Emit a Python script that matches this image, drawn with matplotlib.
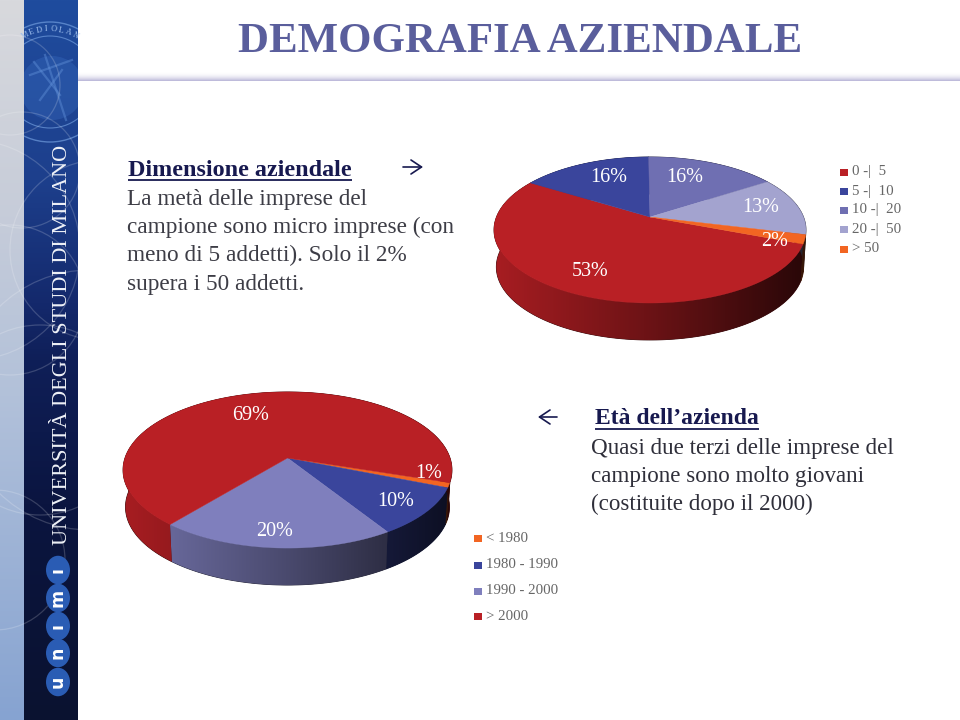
"""Slide DEMOGRAFIA AZIENDALE: due torte 3D con testo a lato."""

import matplotlib
matplotlib.use("Agg")
import matplotlib.pyplot as plt
import numpy as np
from matplotlib.colors import LinearSegmentedColormap, to_rgb
from matplotlib.patches import Circle, Ellipse, Polygon, Rectangle

SERIF = "Liberation Serif"

TITLE = "DEMOGRAFIA AZIENDALE"
SIDE_TEXT = "UNIVERSITÀ DEGLI STUDI DI MILANO"

SIZE_LABELS = ["0 -|  5", "5 -|  10", "10 -|  20", "20 -|  50", "> 50"]
SIZE_VALUES = [53, 16, 16, 13, 2]
SIZE_COLORS = ["#b92025", "#3a459c", "#6f6fb2", "#a3a3cf", "#f26522"]

AGE_LABELS = ["< 1980", "1980 - 1990", "1990 - 2000", "> 2000"]
AGE_VALUES = [1, 10, 20, 69]
AGE_COLORS = ["#f26522", "#3a459c", "#7f7fbd", "#b92025"]

SIZE_TEXT = ["La metà delle imprese del", "campione sono micro imprese (con",
             "meno di 5 addetti). Solo il 2%", "supera i 50 addetti."]
AGE_TEXT = ["Quasi due terzi delle imprese del", "campione sono molto giovani",
            "(costituite dopo il 2000)"]


def project(deg, cx, cy, sx, sy, k):
    # cerchio visto in prospettiva: il retro si accorcia
    a = np.radians(deg)
    x, y = np.sin(a), np.cos(a)
    d = 1 + k * y
    return cx + sx * x / d, cy - sy * y / d


def pie3d(ax, values, colors, start, cx, cy, sx, sy, k, depth):
    edges = start + np.concatenate([[0], np.cumsum(values)]) / sum(values) * 360
    grad = np.linspace(0, 1, 256).reshape(1, -1)
    # fianco: sfumatura orizzontale ritagliata sul bordo di ogni fetta
    for a0, a1, col in zip(edges[:-1], edges[1:], colors):
        base = np.array(to_rgb(col))
        angs = np.linspace(a0, a1, 200)
        xt, yt = project(angs, cx, cy, sx, sy, k)
        xb, yb = project(angs[::-1], cx, cy + depth, sx * 0.985, sy, k)
        pts = np.column_stack([np.r_[xt, xb], np.r_[yt, yb]])
        # sotto l'immagine, per non lasciare fessure chiare tra le fette
        ax.add_patch(Polygon(pts, closed=True, fc=base * 0.3, ec=base * 0.3, lw=0.6, zorder=2.9))
        side = Polygon(pts, closed=True, fc="none", ec="none", transform=ax.transData)
        cmap = LinearSegmentedColormap.from_list("s", [base * 0.92, base * 0.58, base * 0.2])
        im = ax.imshow(grad, cmap=cmap, extent=(cx - sx - 10, cx + sx + 10, cy + 150, cy - 150),
                       aspect="auto", zorder=3)
        im.set_clip_path(side)
    # faccia superiore
    for a0, a1, col in zip(edges[:-1], edges[1:], colors):
        angs = np.linspace(a0, a1, 200)
        xs, ys = project(angs, cx, cy, sx, sy, k)
        pts = np.column_stack([np.r_[cx, xs], np.r_[cy, ys]])
        ax.add_patch(Polygon(pts, closed=True, fc=col, ec=col, lw=0.3, zorder=4))


def legend(ax, labels, colors, x, ys):
    for lab, col, y in zip(labels, colors, ys):
        ax.add_patch(Rectangle((x, y - 3.5), 7.5, 7.5, fc=col, ec="none", zorder=5))
        ax.text(x + 11.5, y, lab, family=SERIF, fontsize=10.7, color="#666666",
                va="center", ha="left", zorder=5)


def banner(ax):
    light = LinearSegmentedColormap.from_list(
        "l", [(0, "#d8d9dd"), (0.3, "#c6ccd9"), (0.55, "#b2c1da"), (1, "#86a3d1")])
    dark = LinearSegmentedColormap.from_list(
        "d", [(0, "#1f4c9e"), (0.25, "#1d3f8c"), (0.42, "#14296c"), (0.5, "#0f1f58"),
              (0.7, "#0b1540"), (1, "#0a1230")])
    grad = np.linspace(0, 1, 256).reshape(-1, 1)
    ax.imshow(grad, cmap=light, extent=(0, 24, 720, 0), aspect="auto", zorder=1)
    ax.imshow(grad, cmap=dark, extent=(24, 78, 720, 0), aspect="auto", zorder=1)
    clip_all = Rectangle((0, 0), 78, 720, transform=ax.transData)
    clip_dark = Rectangle((24, 0), 54, 720, transform=ax.transData)
    # sigillo in alto, solo sulla fascia scura
    for r, lw in [(60, 1.0), (46, 0.8)]:
        c = Circle((50, 82), r, fc="none", ec="#6f9bdc", lw=lw, alpha=0.7, zorder=2)
        ax.add_patch(c)
        c.set_clip_path(clip_dark)
    c = Circle((52, 88), 32, fc="#3f74c8", ec="none", alpha=0.3, zorder=2)
    ax.add_patch(c)
    c.set_clip_path(clip_dark)
    for (x0, y0, x1, y1) in [(30, 75, 72, 60), (34, 62, 60, 95), (45, 55, 66, 120), (62, 70, 40, 100)]:
        ln, = ax.plot([x0, x1], [y0, y1], color="#5f8fd8", lw=1.6, alpha=0.45, zorder=2)
        ln.set_clip_path(clip_dark)
    # archi chiari sulla fascia
    arcs = [(58, 22, 170), (75, 10, 300), (95, 40, 420), (70, -5, 560), (50, 10, 85),
            (110, -30, 250), (130, 90, 400), (90, 100, 250)]
    for r, cx, cy in arcs:
        c = Circle((cx, cy), r, fc="none", ec="white", lw=0.9, alpha=0.18, zorder=2)
        ax.add_patch(c)
        c.set_clip_path(clip_all)
    for ch, deg in zip("MEDIOLAN", [-28, -20, -12, -4, 4, 12, 20, 28]):
        a = np.radians(deg)
        ax.text(50 + 53 * np.sin(a), 82 - 53 * np.cos(a), ch, family=SERIF, fontsize=6,
                color="#9fc0ee", rotation=-deg, ha="center", va="center", zorder=2)
    ax.text(63, 345, SIDE_TEXT, family=SERIF, fontsize=16, color="#eef1f7", rotation=90,
            ha="center", va="center", zorder=3)
    # logo unimi, dal basso verso l'alto
    for ch, y in zip(["u", "n", "ı", "m", "ı"], [682, 653, 626, 598, 570]):
        ax.add_patch(Ellipse((58, y), 24, 28.5, fc="#2a5cb4", ec="none", zorder=3))
        ax.text(58, y, ch, family="DejaVu Sans", weight="bold", fontsize=12.5, color="white",
                rotation=90, ha="center", va="center", zorder=4)


def underlined(ax, x, y, text, size, fig):
    t = ax.text(x, y, text, family=SERIF, weight="bold", fontsize=size, color="#17194f",
                ha="left", va="baseline", zorder=5)
    bb = t.get_window_extent(fig.canvas.get_renderer())
    ax.plot([x, x + bb.width], [y + 4, y + 4], color="#17194f", lw=1.3, zorder=5,
            solid_capstyle="butt")


def arrow(ax, x0, x1, y):
    ax.annotate("", xy=(x1, y), xytext=(x0, y), zorder=5,
                arrowprops=dict(arrowstyle="->,head_length=0.42,head_width=0.28", color="#17194f",
                                lw=1.2, shrinkA=0, shrinkB=0, mutation_scale=18))


def main():
    fig = plt.figure(figsize=(9.6, 7.2), dpi=100)
    ax = fig.add_axes((0, 0, 1, 1))
    ax.axis("off")

    banner(ax)

    # filetto sotto il titolo
    band = np.ones((12, 2, 4))
    band[..., :3] = to_rgb("#bdbada")
    band[..., 3] = (np.linspace(0, 1, 12) ** 2.2).reshape(-1, 1)
    ax.imshow(band, extent=(78, 960, 81, 71), aspect="auto", zorder=1)

    ax.text(520, 42, TITLE, family=SERIF, weight="bold", fontsize=30.9, color="#5a5e9c",
            ha="center", va="center", zorder=5)

    underlined(ax, 128, 176, "Dimensione aziendale", 17.4, fig)
    for line, y in zip(SIZE_TEXT, [205, 233, 261, 290]):
        ax.text(127, y, line, family=SERIF, fontsize=16.75, color="#3d3d46",
                ha="left", va="baseline", zorder=5)

    underlined(ax, 595, 424.5, "Età dell’azienda", 17, fig)
    for line, y in zip(AGE_TEXT, [454, 482, 510]):
        ax.text(591, y, line, family=SERIF, fontsize=16.6, color="#2f2f3a",
                ha="left", va="baseline", zorder=5)

    arrow(ax, 403, 423, 167)
    arrow(ax, 557, 538, 417)

    pie3d(ax, SIZE_VALUES, SIZE_COLORS, 111.0, 650, 217, 153.5, 70.7, 0.178, 37)
    pie3d(ax, AGE_VALUES, AGE_COLORS, 108.0, 287.5, 458, 162.5, 76.2, 0.154, 37)

    size_pos = [(590, 272), (609, 178), (685, 177), (761, 208), (775, 241)]
    for v, (x, y) in zip(SIZE_VALUES, size_pos):
        ax.text(x, y, f"{v}%", family=SERIF, fontsize=14.5, color="white",
                ha="center", va="center", zorder=6)
    age_pos = [(429, 474), (396, 502), (275, 531), (251, 415)]
    for v, (x, y) in zip(AGE_VALUES, age_pos):
        ax.text(x, y, f"{v}%", family=SERIF, fontsize=14.5, color="white",
                ha="center", va="center", zorder=6)

    legend(ax, SIZE_LABELS, SIZE_COLORS, 840, [172, 191, 210, 229, 249])
    legend(ax, AGE_LABELS, AGE_COLORS, 474, [538, 565, 591, 616])

    ax.set_xlim(0, 960)
    ax.set_ylim(720, 0)
    fig.savefig("out.png", dpi=100)


if __name__ == "__main__":
    main()
